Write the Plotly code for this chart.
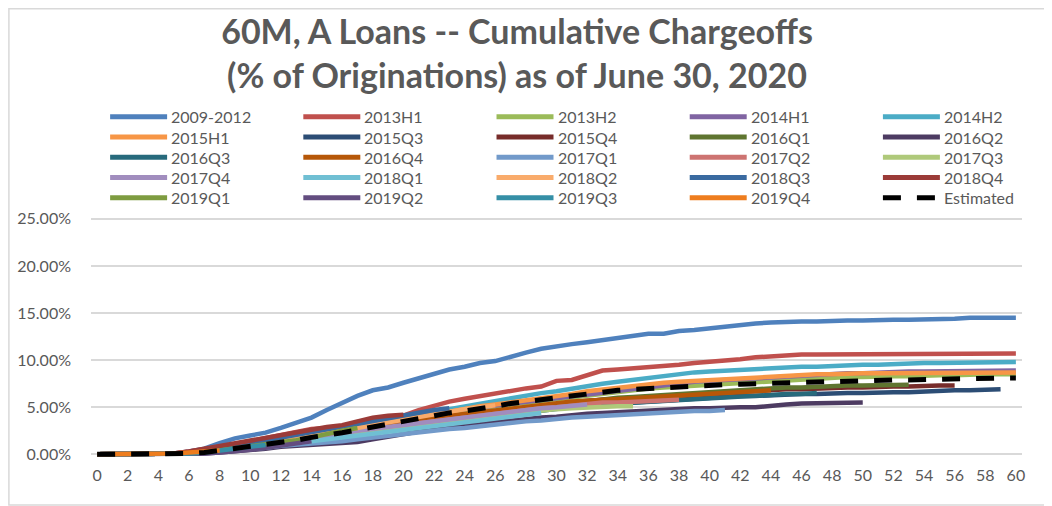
import plotly.graph_objects as go

# cumulative chargeoffs, % of originations, by months since origination
s_2009_2012 = [0, 0, 0, 0, 0, 0.1, 0.3, 0.6, 1.2, 1.7,
               2.0, 2.3, 2.8, 3.3, 3.9, 4.7, 5.5, 6.2, 6.8, 7.1,
               7.6, 8.1, 8.6, 9.0, 9.3, 9.7, 9.9, 10.4, 10.8, 11.2,
               11.5, 11.7, 11.9, 12.1, 12.4, 12.6, 12.8, 12.8, 13.1, 13.2,
               13.4, 13.5, 13.7, 13.9, 14.0, 14.1, 14.1, 14.1, 14.2, 14.2,
               14.2, 14.3, 14.3, 14.3, 14.3, 14.4, 14.4, 14.5, 14.5, 14.5,
               14.5]
s_2013h1 = [0, 0, 0, 0, 0, 0.1, 0.3, 0.5, 0.8, 1.1,
            1.4, 1.7, 2.1, 2.4, 2.7, 2.8, 2.9, 3.3, 3.7, 3.9,
            4.1, 4.7, 5.2, 5.6, 5.9, 6.2, 6.5, 6.7, 7.0, 7.2,
            7.8, 7.9, 8.4, 8.9, 9.0, 9.1, 9.2, 9.3, 9.5, 9.7,
            9.8, 10.0, 10.1, 10.3, 10.4, 10.6, 10.6, 10.6, 10.6, 10.6,
            10.6, 10.6, 10.7, 10.7, 10.7, 10.7, 10.7, 10.7, 10.7, 10.7,
            10.7]
s_2013h2 = [0, 0, 0, 0, 0, 0, 0.1, 0.3, 0.5, 0.7,
            0.9, 1.1, 1.4, 1.7, 2.0, 2.3, 2.6, 2.9, 3.2, 3.5,
            3.8, 4.1, 4.3, 4.5, 4.7, 4.9, 5.1, 5.3, 5.5, 5.7,
            5.9, 6.1, 6.3, 6.5, 6.7, 6.9, 7.0, 7.1, 7.2, 7.3,
            7.4, 7.5, 7.6, 7.7, 7.8, 7.9, 8.0, 8.1, 8.1, 8.2,
            8.2, 8.3, 8.3, 8.3, 8.4, 8.4, 8.4, 8.5, 8.5, 8.5,
            8.5]
s_2014h1 = [0, 0, 0, 0, 0, 0, 0.1, 0.3, 0.5, 0.8,
            1.0, 1.2, 1.5, 1.8, 2.1, 2.4, 2.7, 3.0, 3.3, 3.6,
            3.9, 4.2, 4.4, 4.6, 4.8, 5.0, 5.2, 5.4, 5.6, 5.8,
            6.0, 6.2, 6.4, 6.6, 6.8, 7.0, 7.2, 7.4, 7.5, 7.7,
            7.8, 7.9, 8.0, 8.1, 8.2, 8.3, 8.4, 8.5, 8.5, 8.6,
            8.6, 8.7, 8.7, 8.8, 8.8, 8.8, 8.9, 8.9, 8.9, 8.9,
            8.9]
s_2014h2 = [0, 0, 0, 0, 0, 0, 0.1, 0.3, 0.5, 0.7,
            0.9, 1.1, 1.3, 1.6, 1.9, 2.2, 2.5, 2.8, 3.1, 3.4,
            3.7, 4.0, 4.4, 4.8, 5.1, 5.4, 5.7, 6.0, 6.3, 6.5,
            6.7, 7.0, 7.2, 7.5, 7.7, 7.9, 8.2, 8.4, 8.5, 8.7,
            8.8, 8.9, 9.0, 9.1, 9.1, 9.2, 9.3, 9.3, 9.4, 9.4,
            9.5, 9.5, 9.6, 9.6, 9.7, 9.7, 9.7, 9.8, 9.8, 9.8,
            9.8]
s_2015h1 = [0, 0, 0, 0, 0, 0, 0.1, 0.3, 0.5, 0.7,
            0.9, 1.1, 1.3, 1.6, 1.9, 2.2, 2.5, 2.8, 3.1, 3.4,
            3.7, 4.0, 4.3, 4.6, 4.9, 5.1, 5.3, 5.5, 5.7, 5.9,
            6.1, 6.4, 6.7, 6.9, 7.1, 7.3, 7.5, 7.6, 7.7, 7.8,
            7.9, 8.0, 8.1, 8.2, 8.3, 8.4, 8.4, 8.5, 8.5, 8.6,
            8.6, 8.6, 8.6, 8.6, 8.6, 8.7, 8.7, 8.7, 8.7, 8.7,
            8.7]
s_2015q3 = [0, 0, 0, 0, 0, 0, 0.1, 0.2, 0.4, 0.6,
            0.8, 1.0, 1.2, 1.4, 1.6, 1.9, 2.2, 2.5, 2.8, 3.0,
            3.2, 3.4, 3.6, 3.8, 4.0, 4.2, 4.4, 4.6, 4.7, 4.9,
            5.0, 5.1, 5.3, 5.4, 5.5, 5.6, 5.7, 5.8, 5.9, 6.0,
            6.0, 6.1, 6.2, 6.2, 6.3, 6.3, 6.4, 6.4, 6.5, 6.5,
            6.5, 6.6, 6.6, 6.6, 6.7, 6.7, 6.8, 6.8, 6.9, 6.9]
s_2015q4 = [0, 0, 0, 0, 0, 0, 0.1, 0.3, 0.5, 0.7,
            0.9, 1.1, 1.3, 1.5, 1.8, 2.1, 2.4, 2.7, 3.0, 3.2,
            3.4, 3.6, 3.8, 4.0, 4.2, 4.4, 4.6, 4.8, 5.0, 5.2,
            5.4, 5.5, 5.7, 5.8, 5.9, 6.0, 6.1, 6.2, 6.3, 6.4,
            6.5, 6.6, 6.7, 6.7, 6.8, 6.9, 6.9, 7.0, 7.0, 7.1,
            7.1, 7.2, 7.2, 7.2, 7.3, 7.3, 7.3]
s_2016q1 = [0, 0, 0, 0, 0, 0, 0.1, 0.2, 0.4, 0.6,
            0.8, 1.0, 1.2, 1.4, 1.7, 2.0, 2.3, 2.6, 2.9, 3.1,
            3.3, 3.5, 3.7, 3.9, 4.1, 4.3, 4.5, 4.7, 4.9, 5.1,
            5.3, 5.5, 5.7, 5.8, 6.0, 6.1, 6.2, 6.4, 6.5, 6.6,
            6.7, 6.8, 6.9, 7.0, 7.0, 7.1, 7.1, 7.2, 7.2, 7.3,
            7.3, 7.3, 7.4, 7.4]
s_2016q2 = [0, 0, 0, 0, 0, 0, 0, 0.1, 0.2, 0.3,
            0.5, 0.6, 0.8, 0.9, 1.0, 1.1, 1.2, 1.3, 1.6, 1.9,
            2.2, 2.5, 2.7, 2.9, 3.0, 3.2, 3.4, 3.6, 3.8, 3.9,
            4.0, 4.2, 4.3, 4.4, 4.5, 4.6, 4.6, 4.7, 4.8, 4.9,
            4.9, 5.0, 5.0, 5.0, 5.2, 5.3, 5.4, 5.4, 5.4, 5.5,
            5.5]
s_2016q3 = [0, 0, 0, 0, 0, 0, 0.1, 0.2, 0.4, 0.6,
            0.8, 0.9, 1.0, 1.2, 1.4, 1.6, 1.8, 2.0, 2.3, 2.6,
            2.9, 3.1, 3.3, 3.5, 3.7, 3.9, 4.1, 4.3, 4.5, 4.7,
            4.9, 5.0, 5.2, 5.3, 5.4, 5.5, 5.6, 5.7, 5.8, 5.9,
            6.0, 6.1, 6.2, 6.3, 6.3, 6.4, 6.4, 6.5]
s_2016q4 = [0, 0, 0, 0, 0, 0, 0.1, 0.3, 0.5, 0.7,
            0.9, 1.1, 1.3, 1.5, 1.8, 2.1, 2.4, 2.7, 3.0, 3.2,
            3.4, 3.7, 3.9, 4.1, 4.3, 4.5, 4.7, 4.9, 5.1, 5.3,
            5.4, 5.6, 5.7, 5.8, 5.9, 6.0, 6.1, 6.2, 6.3, 6.4,
            6.5, 6.5, 6.6, 6.7, 6.8]
s_2017q1 = [0, 0, 0, 0, 0, 0, 0.1, 0.2, 0.3, 0.4,
            0.6, 0.7, 0.9, 1.0, 1.1, 1.3, 1.4, 1.6, 1.8, 2.0,
            2.2, 2.4, 2.6, 2.7, 2.8, 3.0, 3.2, 3.4, 3.5, 3.6,
            3.8, 3.9, 4.0, 4.1, 4.2, 4.3, 4.4, 4.5, 4.5, 4.6,
            4.6, 4.7]
s_2017q2 = [0, 0, 0, 0, 0, 0, 0.1, 0.3, 0.5, 0.7,
            0.9, 1.1, 1.3, 1.5, 1.7, 1.9, 2.2, 2.4, 2.6, 2.8,
            3.0, 3.3, 3.5, 3.7, 4.0, 4.2, 4.4, 4.6, 4.8, 4.9,
            5.0, 5.2, 5.4, 5.5, 5.5, 5.6, 5.6, 5.7, 5.8]
s_2017q3 = [0, 0, 0, 0, 0, 0, 0.1, 0.2, 0.4, 0.6,
            0.8, 1.0, 1.1, 1.3, 1.5, 1.7, 1.9, 2.1, 2.3, 2.5,
            2.7, 3.0, 3.2, 3.4, 3.6, 3.8, 4.1, 4.3, 4.5, 4.7,
            4.8, 4.9, 5.0, 5.0, 5.1, 5.1]
s_2017q4 = [0, 0, 0, 0, 0, 0, 0.1, 0.3, 0.5, 0.7,
            0.9, 1.1, 1.3, 1.5, 1.7, 2.0, 2.2, 2.5, 2.7, 2.9,
            3.1, 3.3, 3.6, 3.8, 4.0, 4.2, 4.4, 4.6, 4.8, 4.9,
            5.0, 5.2, 5.3]
s_2018q1 = [0, 0, 0, 0, 0, 0, 0.1, 0.2, 0.4, 0.5,
            0.7, 0.9, 1.0, 1.2, 1.4, 1.6, 1.8, 2.0, 2.2, 2.4,
            2.6, 2.8, 3.0, 3.2, 3.4, 3.6, 3.8, 4.0, 4.2, 4.4]
s_2018q2 = [0, 0, 0, 0, 0, 0, 0.1, 0.3, 0.5, 0.7,
            1.0, 1.2, 1.5, 1.7, 2.0, 2.3, 2.5, 2.8, 3.1, 3.4,
            3.7, 4.0, 4.3, 4.6, 4.8, 5.0, 5.2]
s_2018q3 = [0, 0, 0, 0, 0, 0, 0.1, 0.3, 0.6, 0.9,
            1.2, 1.5, 1.8, 2.1, 2.4, 2.7, 3.0, 3.3, 3.6, 3.9,
            4.2, 4.4, 4.7, 4.9]
s_2018q4 = [0, 0, 0, 0, 0, 0.1, 0.3, 0.6, 0.9, 1.2,
            1.5, 1.8, 2.1, 2.4, 2.7, 2.9, 3.1, 3.5, 3.9, 4.1,
            4.2]
s_2019q1 = [0, 0, 0, 0, 0, 0, 0.1, 0.2, 0.4, 0.6,
            0.8, 1.0, 1.3, 1.5, 1.8, 2.2, 2.5, 2.8]
s_2019q2 = [0, 0, 0, 0, 0, 0, 0, 0.1, 0.2, 0.3,
            0.5, 0.7, 0.9, 1.2, 1.4]
s_2019q3 = [0, 0, 0, 0, 0, 0, 0.1, 0.2, 0.4, 0.6,
            0.8, 1.0]
s_2019q4 = [0, 0, 0, 0, 0, 0.1, 0.2, 0.3, 0.4]
estimated = [0, 0, 0, 0, 0, 0, 0.1, 0.2, 0.4, 0.6,
             0.8, 1.0, 1.2, 1.5, 1.8, 2.0, 2.3, 2.6, 2.9, 3.3,
             3.6, 3.9, 4.1, 4.4, 4.6, 4.8, 5.1, 5.4, 5.6, 5.9,
             6.0, 6.2, 6.4, 6.6, 6.8, 6.9, 7.0, 7.1, 7.2, 7.3,
             7.35, 7.4, 7.45, 7.5, 7.6, 7.6, 7.6, 7.65, 7.7, 7.75,
             7.8, 7.85, 7.9, 7.9, 7.95, 8.0, 8.0, 8.05, 8.05, 8.1,
             8.1]

vintages = ["2009-2012", "2013H1", "2013H2", "2014H1", "2014H2",
            "2015H1", "2015Q3", "2015Q4", "2016Q1", "2016Q2",
            "2016Q3", "2016Q4", "2017Q1", "2017Q2", "2017Q3",
            "2017Q4", "2018Q1", "2018Q2", "2018Q3", "2018Q4",
            "2019Q1", "2019Q2", "2019Q3", "2019Q4"]
series = [s_2009_2012, s_2013h1, s_2013h2, s_2014h1, s_2014h2,
          s_2015h1, s_2015q3, s_2015q4, s_2016q1, s_2016q2,
          s_2016q3, s_2016q4, s_2017q1, s_2017q2, s_2017q3,
          s_2017q4, s_2018q1, s_2018q2, s_2018q3, s_2018q4,
          s_2019q1, s_2019q2, s_2019q3, s_2019q4]
colors = ["#4F81BD", "#C0504D", "#9BBB59", "#8064A2", "#4BACC6",
          "#F79646", "#2C4D75", "#772C2A", "#5F7530", "#4D3B62",
          "#276A7C", "#B65708", "#729ACA", "#CD7371", "#AFC97A",
          "#A18DBE", "#70BFD3", "#F9AB6B", "#3A6AA0", "#9B3B38",
          "#7E9C40", "#634D80", "#358FA6", "#EE7D1E"]

FONT = "Lato, 'Open Sans', sans-serif"
GREY = "#595959"
EST_DASH = "18px,16px"

# the page body has an 8px margin, so the figure is 8px smaller
W, H = 1044, 498
PX_X = 919 / 60.0
PX_Y = 235.6 / 25.0
X_RANGE = [-0.4, 60.4]
Y_RANGE = [-0.6, 25.3]
X0_PX, Y0_PX, Y25_PX = 89, 446.6, 211
ML = X0_PX + X_RANGE[0] * PX_X
MR = W - (X0_PX + X_RANGE[1] * PX_X)
MT = Y25_PX - (Y_RANGE[1] - 25) * PX_Y
MB = H - (Y0_PX - Y_RANGE[0] * PX_Y)
PW = W - ML - MR
PH = H - MT - MB


def px_x(p):
    return (p - ML) / PW


def px_y(p):
    return (H - MB - p) / PH


fig = go.Figure()

for name, vals, col in zip(vintages, series, colors):
    fig.add_trace(go.Scatter(
        x=list(range(len(vals))), y=[v / 100 for v in vals],
        mode="lines", name=name,
        line=dict(color=col, width=4.5),
    ))

fig.add_trace(go.Scatter(
    x=list(range(len(estimated))), y=[v / 100 for v in estimated],
    mode="lines", name="Estimated",
    line=dict(color="black", width=5, dash=EST_DASH),
))

# legend drawn by hand: 5 columns, Excel-like long line keys
legend_items = list(zip(vintages, colors, ["solid"] * len(vintages)))
legend_items.append(("Estimated", "black", EST_DASH))
for i, (name, col, dash) in enumerate(legend_items):
    r, c = divmod(i, 5)
    lx = 102 + 193.25 * c
    ly = 109 + 20.25 * r
    fig.add_shape(
        type="line", xref="paper", yref="paper",
        x0=px_x(lx), x1=px_x(lx + 57), y0=px_y(ly), y1=px_y(ly),
        line=dict(color=col, width=5, dash=dash),
    )
    fig.add_annotation(
        text=name, xref="paper", yref="paper",
        x=px_x(lx + 59), y=px_y(ly), xanchor="left", yanchor="middle",
        showarrow=False, font=dict(family=FONT, size=16, color=GREY),
    )

# thin grey border around whole chart
fig.add_shape(
    type="rect", xref="paper", yref="paper",
    x0=px_x(0.75), x1=px_x(W - 0.75), y0=px_y(H - 0.75), y1=px_y(0.75),
    line=dict(color="#D9D9D9", width=1.5), fillcolor="rgba(0,0,0,0)",
    layer="below",
)

fig.update_layout(
    width=W, height=H,
    margin=dict(l=ML, r=MR, t=MT, b=MB, pad=0, autoexpand=False),
    paper_bgcolor="white", plot_bgcolor="white",
    font=dict(family=FONT, color=GREY, size=16),
    title=dict(
        text="60M, A Loans -- Cumulative Chargeoffs<br>(% of Originations) as of June 30, 2020",
        x=509 / W, xanchor="center", xref="container",
        y=1 - 36 / H, yanchor="top", yref="container",
        font=dict(family=FONT, size=34, color=GREY, weight="bold"),
    ),
    showlegend=False,
)

fig.update_xaxes(
    range=X_RANGE, tickmode="linear", tick0=0, dtick=2,
    showgrid=False, zeroline=False, showline=False,
    ticks="", ticklabelstandoff=4,
    tickfont=dict(family=FONT, size=16, color=GREY),
)
fig.update_yaxes(
    range=[Y_RANGE[0] / 100, Y_RANGE[1] / 100],
    tickmode="linear", tick0=0, dtick=0.05,
    tickformat=".2%", showgrid=True, gridcolor="#D9D9D9", gridwidth=1.5,
    zeroline=False, showline=False, ticks="", ticklabelstandoff=19,
    tickfont=dict(family=FONT, size=16, color=GREY),
)

fig.write_html("out.html")
